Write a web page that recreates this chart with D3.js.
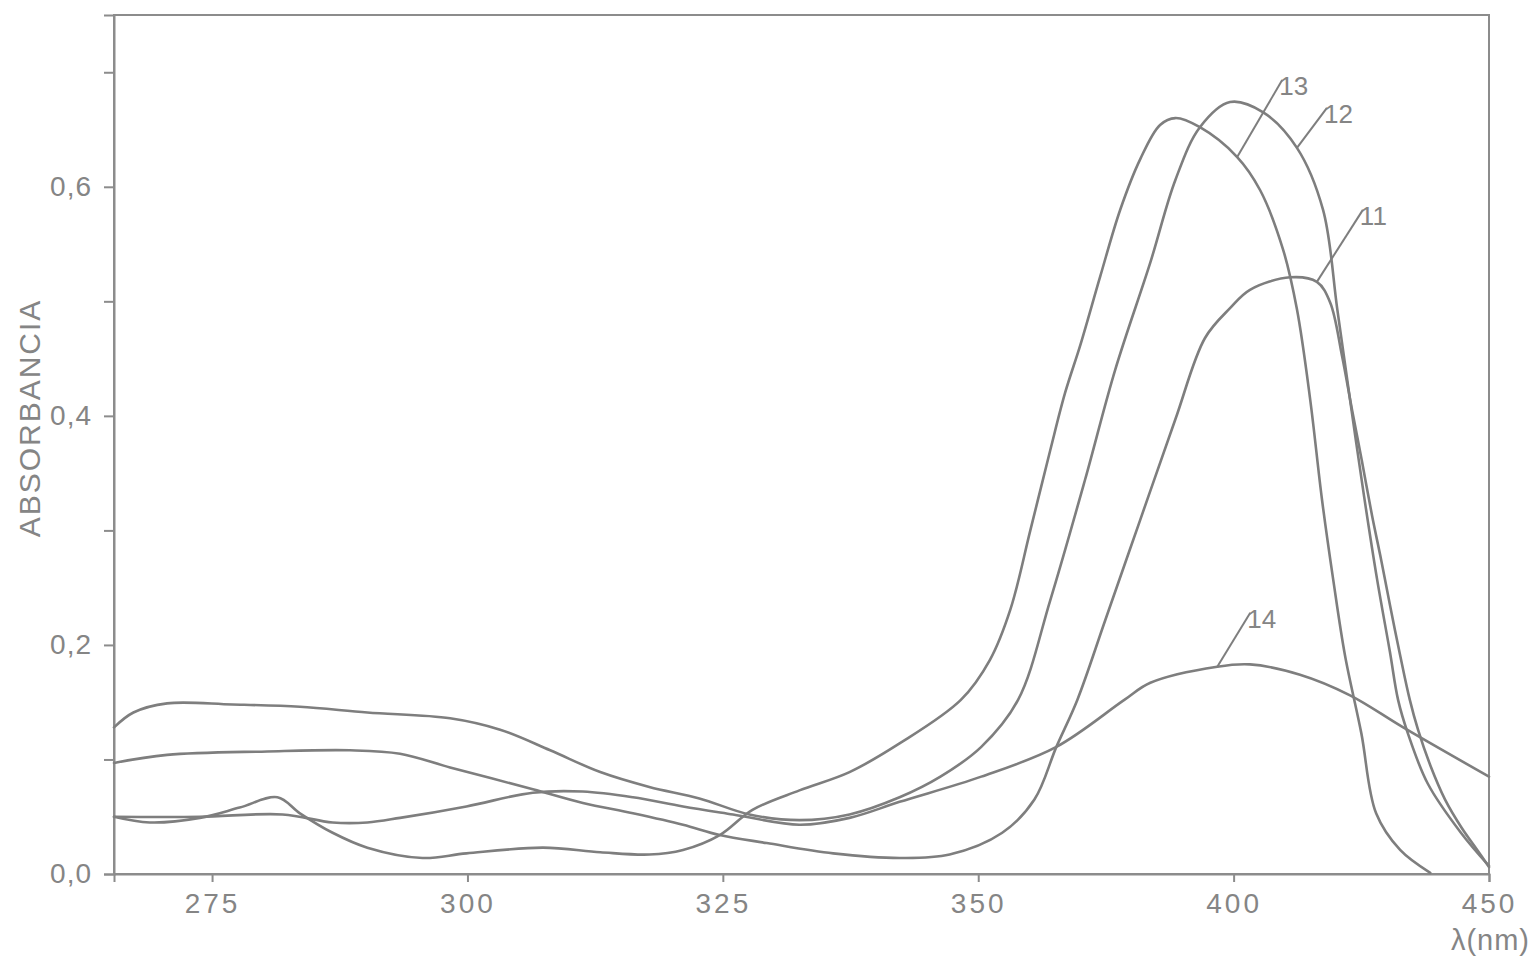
<!DOCTYPE html>
<html>
<head>
<meta charset="utf-8">
<script src="https://cdn.jsdelivr.net/npm/d3@7"></script>
<style>
  html, body { margin: 0; padding: 0; background: #ffffff; }
  svg { display: block; }
  text { font-family: "Liberation Sans", Arial, sans-serif; fill: #858585; }
</style>
</head>
<body>
<svg id="chart" width="1538" height="961"></svg>
<script>
// Absorption spectra, wavelength in nm, absorbance in arbitrary units.
const wavelengthTicks = [275, 300, 325, 350, 400, 450];
const absorbanceTicks = [0, 0.1, 0.2, 0.3, 0.4, 0.5, 0.6, 0.7];
const seriesNames = ["11", "12", "13", "14"];

const wl11 = [265.4, 270.6, 280.4, 288.5, 293.4, 298.3, 306.4, 311.3, 316.2, 321.1, 324.7, 329.3, 335.8, 342.3, 347.2, 354.7, 361.0, 365.3, 369.4, 374.9, 381.7, 388.6, 394.4, 399.3, 403.2, 411.1, 416.3, 418.9, 421.2, 423.2, 425.1, 427.1, 428.9, 430.6, 432.6, 434.5, 436.1, 438.5, 441.4, 444.7, 447.7, 450];
const ab11 = [0.097, 0.104, 0.107, 0.108, 0.105, 0.093, 0.074, 0.062, 0.053, 0.043, 0.034, 0.027, 0.018, 0.014, 0.017, 0.036, 0.065, 0.111, 0.152, 0.222, 0.309, 0.397, 0.468, 0.494, 0.510, 0.521, 0.517, 0.499, 0.453, 0.405, 0.361, 0.313, 0.274, 0.235, 0.191, 0.152, 0.126, 0.095, 0.065, 0.040, 0.021, 0.006];

const wl12 = [265.4, 267.3, 270.6, 277.0, 283.6, 290.2, 298.3, 303.2, 308.1, 313.0, 317.8, 322.7, 327.6, 332.5, 337.4, 342.3, 346.3, 350.6, 357.8, 364.1, 370.9, 376.8, 383.7, 388.6, 393.4, 399.3, 405.8, 412.4, 417.5, 420.3, 422.8, 425.5, 428.1, 430.6, 432.2, 434.1, 438.0, 444.5, 450];
const ab12 = [0.128, 0.141, 0.149, 0.148, 0.146, 0.141, 0.136, 0.126, 0.108, 0.089, 0.076, 0.066, 0.052, 0.047, 0.052, 0.067, 0.085, 0.111, 0.152, 0.239, 0.344, 0.440, 0.534, 0.606, 0.652, 0.674, 0.665, 0.634, 0.580, 0.493, 0.414, 0.331, 0.257, 0.194, 0.152, 0.123, 0.079, 0.036, 0.007];

const wl13 = [265.4, 268.9, 273.8, 277.7, 281.4, 283.6, 286.8, 290.2, 295.6, 299.9, 307.4, 313.0, 317.8, 321.1, 324.7, 327.9, 332.5, 337.4, 342.3, 348.3, 352.3, 356.3, 360.2, 364.1, 367.0, 370.0, 373.9, 377.8, 381.7, 385.6, 388.6, 393.4, 400.7, 405.2, 409.7, 412.4, 415.0, 417.3, 419.5, 421.8, 425.0, 427.9, 432.6, 438.5];
const ab13 = [0.050, 0.045, 0.049, 0.058, 0.067, 0.053, 0.036, 0.023, 0.014, 0.018, 0.023, 0.019, 0.017, 0.021, 0.034, 0.056, 0.073, 0.089, 0.114, 0.152, 0.187, 0.231, 0.300, 0.370, 0.420, 0.462, 0.522, 0.580, 0.624, 0.654, 0.660, 0.652, 0.626, 0.597, 0.545, 0.493, 0.414, 0.327, 0.257, 0.191, 0.123, 0.053, 0.021, 0.001];

const wl14 = [265.4, 273.8, 281.9, 286.8, 290.2, 293.4, 299.9, 306.4, 311.3, 316.2, 321.1, 326.0, 332.5, 337.4, 342.3, 350.6, 365.3, 378.6, 383.7, 396.8, 403.2, 413.0, 422.8, 433.2, 450];
const ab14 = [0.050, 0.050, 0.052, 0.045, 0.045, 0.049, 0.059, 0.071, 0.072, 0.067, 0.059, 0.052, 0.043, 0.049, 0.063, 0.085, 0.111, 0.152, 0.167, 0.181, 0.183, 0.174, 0.156, 0.128, 0.085];

// Wavelength at which each curve number is tagged
const labelWavelengths = [416.3, 412.4, 400.7, 396.8];

const wavelengths = [wl11, wl12, wl13, wl14];
const absorbances = [ab11, ab12, ab13, ab14];

// ---- layout ----
const svg = d3.select("#chart");
const plot = { left: 114, right: 1489, top: 15, bottom: 874 };
const wlMin = 265.4, wlBreak = 350, wlMax = 450;

// The recorder chart is expanded 2x below 350 nm.
const lowSpan = (wlBreak - wlMin) * 2, highSpan = wlMax - wlBreak;
const xBreak = plot.left + (plot.right - plot.left) * lowSpan / (lowSpan + highSpan);
const x = d3.scaleLinear()
  .domain([wlMin, wlBreak, wlMax])
  .range([plot.left, xBreak, plot.right]);
const y = d3.scaleLinear().domain([0, 0.75]).range([plot.bottom, plot.top]);

const ink = "#7e7e7e";

// frame
svg.append("rect")
  .attr("x", x(wlMin)).attr("y", y(0.75))
  .attr("width", x(wlMax) - x(wlMin)).attr("height", y(0) - y(0.75))
  .attr("fill", "none").attr("stroke", "#8c8c8c").attr("stroke-width", 2);

// axes
const fmt = v => (Math.round(v * 10) % 2 === 0) ? d3.format(".1f")(v).replace(".", ",") : "";
const yAxis = svg.append("g")
  .attr("transform", `translate(${plot.left},0)`)
  .call(d3.axisLeft(y).tickValues(absorbanceTicks).tickSize(10).tickPadding(12).tickFormat(fmt));
const xAxis = svg.append("g")
  .attr("transform", `translate(0,${plot.bottom})`)
  .call(d3.axisBottom(x).tickValues(wavelengthTicks).tickSize(8).tickPadding(11).tickFormat(d3.format("d")));

[yAxis, xAxis].forEach(g => {
  g.select(".domain").attr("stroke", "#8c8c8c").attr("stroke-width", 2);
  g.selectAll(".tick line").attr("stroke", "#8c8c8c").attr("stroke-width", 2);
  g.selectAll(".tick text").attr("font-size", 28).attr("fill", "#858585")
    .style("font-family", '"Liberation Sans", Arial, sans-serif');
});
xAxis.selectAll(".tick text").attr("letter-spacing", 3);
yAxis.selectAll(".tick text").attr("letter-spacing", 1);

// axis titles
svg.append("text")
  .attr("transform", `translate(40,418) rotate(-90)`)
  .attr("text-anchor", "middle")
  .attr("font-size", 30).attr("letter-spacing", 2)
  .text("ABSORBANCIA");

svg.append("text")
  .attr("x", 1530).attr("y", 950)
  .attr("text-anchor", "end")
  .attr("font-size", 29).attr("letter-spacing", 1)
  .text("λ(nm)");

// spectra
const line = d3.line()
  .x(d => x(d[0]))
  .y(d => y(d[1]))
  .curve(d3.curveCatmullRom.alpha(0.5));

const series = seriesNames.map((name, i) => ({
  name,
  points: wavelengths[i].map((w, j) => [w, absorbances[i][j]])
}));

svg.append("g").selectAll("path")
  .data(series)
  .join("path")
  .attr("d", d => line(d.points))
  .attr("fill", "none")
  .attr("stroke", ink)
  .attr("stroke-width", 2.6)
  .attr("stroke-linejoin", "round")
  .attr("stroke-linecap", "round");

// curve numbers with leader lines
const leaderOffset = { "11": [46, -72], "12": [30, -40], "13": [45, -77], "14": [33, -54] };
function absorbanceAt(pts, w) {
  for (let j = 1; j < pts.length; j++) {
    if (w <= pts[j][0]) {
      const [w0, a0] = pts[j - 1], [w1, a1] = pts[j];
      return a0 + (a1 - a0) * (w - w0) / (w1 - w0);
    }
  }
  return pts[pts.length - 1][1];
}

const tags = svg.append("g");
series.forEach((s, i) => {
  const w = labelWavelengths[i];
  const ax = x(w), ay = y(absorbanceAt(s.points, w));
  const [dx, dy] = leaderOffset[s.name];
  tags.append("line")
    .attr("x1", ax).attr("y1", ay).attr("x2", ax + dx).attr("y2", ay + dy)
    .attr("stroke", ink).attr("stroke-width", 2);
  tags.append("text")
    .attr("x", ax + dx - 3).attr("y", ay + dy + 15)
    .attr("font-size", 26)
    .text(s.name);
});
</script>
</body>
</html>
